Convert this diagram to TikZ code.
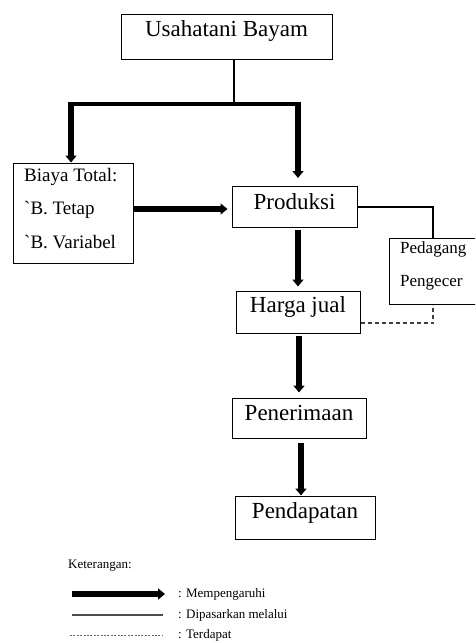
\documentclass[tikz,border=0pt]{standalone}
\usepackage{fontspec}
\setmainfont{Liberation Serif}
\usetikzlibrary{arrows.meta,calc}
\tikzset{
  box/.style={draw, line width=1pt, inner sep=0pt},
  arr/.style={line width=6pt, -{Triangle[width=11pt,length=7pt]}},
  thinln/.style={line width=1.3pt},
  dashln/.style={line width=1.1pt, dash pattern=on 4pt off 3pt, black!75},
  big/.style={font=\fontsize{23}{26}\selectfont, inner sep=0pt},
  mid/.style={font=\fontsize{19}{22}\selectfont, inner sep=0pt, anchor=west},
  sml/.style={font=\fontsize{17}{20}\selectfont, inner sep=0pt, anchor=west},
  leg/.style={font=\fontsize{13}{15}\selectfont, inner sep=0pt, anchor=west}
}
\begin{document}
\begin{tikzpicture}[x=1pt,y=-1pt]
\useasboundingbox (0,0) rectangle (475,643);
\clip (0,0) rectangle (475,643);
% boxes
\node[box, minimum width=211pt, minimum height=45pt] (u) at (226.5,36.5) {};
\node[big] (ut) at (226.5,31) {Usahatani Bayam};
\node[box, minimum width=120pt, minimum height=100pt] (b) at (73,213) {};
\node[mid] (b1) at (24,177) {Biaya Total:};
\node[mid] (b2) at (24,210) {\textasciigrave B. Tetap};
\node[mid] (b3) at (24,242) {\textasciigrave B. Variabel};
\node[box, minimum width=125pt, minimum height=41pt] (p) at (294.5,207) {};
\node[big] (pt) at (294.5,202) {Produksi};
\node[box, minimum width=124pt, minimum height=42pt] (h) at (298,312) {};
\node[big] (ht) at (298,307) {Harga jual};
\node[box, minimum width=134pt, minimum height=40pt] (r) at (299,418) {};
\node[big] (rt) at (299,413) {Penerimaan};
\node[box, minimum width=140pt, minimum height=43pt] (d) at (305,517.5) {};
\node[big] (dt) at (305,513) {Pendapatan};
\node[box, minimum width=100pt, minimum height=66pt] (g) at (439,271) {};
\node[sml] (g1) at (400,249) {Pedagang};
\node[sml] (g2) at (400,283) {Pengecer};
% connectors
\coordinate (jt) at (234,104);
\coordinate (jl) at (71,104);
\coordinate (jr) at (298,104);
\draw[thinln] (u.south -| jt) -- (jt);
\draw[line width=4pt] ([xshift=-3pt]jl) -- ([xshift=3pt]jr);
\draw[arr, shorten <=-2pt] (jl) -- (jl |- b.north);
\draw[arr, shorten <=-2pt, shorten >=8pt] (jr) -- (jr |- p.north);
\draw[arr, shorten >=4pt] (b.east |- 0,209) -- (p.west |- 0,209);
\draw[arr, shorten <=2pt, shorten >=4pt] (p.south -| jr) -- (h.north -| jr);
\coordinate (xr) at (299,0);
\draw[arr, shorten <=2pt, shorten >=5pt] (h.south -| xr) -- (r.north -| xr);
\coordinate (xd) at (301,0);
\draw[arr, shorten <=4pt] (r.south -| xd) -- (d.north -| xd);
\coordinate (xg) at (433,0);
\draw[thinln] (p.east) -| (g.north -| xg);
\draw[dashln] ($(h.east)+(0,11)$) -| (g.south -| xg);
% legend
\node[leg] (k) at (68,566) {Keterangan:};
\coordinate (a1) at (72,594); \coordinate (a2) at (165,594);
\draw[arr, line width=5.5pt] (a1) -- (a2);
\node[leg] (l1) at (178,594) {: Mempengaruhi};
\coordinate (s1) at (72,615); \coordinate (s2) at (163,615);
\draw[line width=1.2pt, black!70] (s1) -- (s2);
\node[leg] (l2) at (178,615) {: Dipasarkan melalui};
\coordinate (t1) at (70,635); \coordinate (t2) at (163,635);
\draw[line width=0.9pt, black!60, dash pattern=on 2pt off 1.4pt] (t1) -- (t2);
\node[leg] (l3) at (178,635) {: Terdapat};
\end{tikzpicture}
\end{document}
